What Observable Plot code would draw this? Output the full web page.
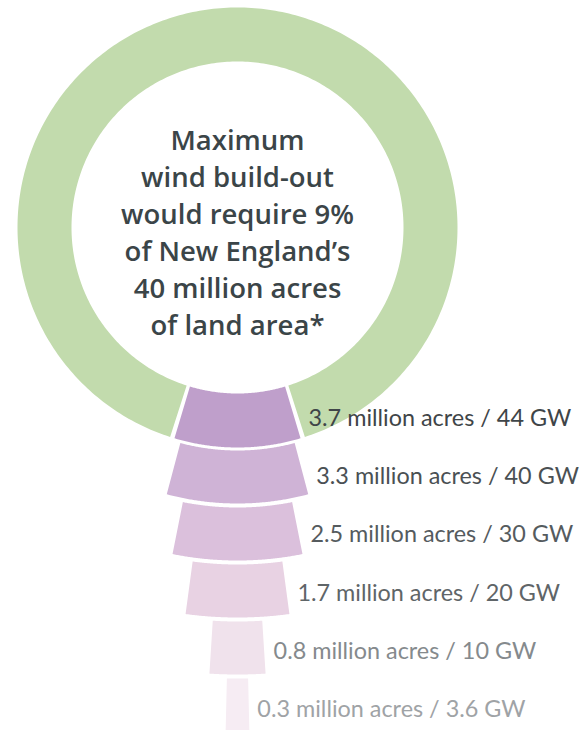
<!DOCTYPE html>
<html>
<head>
<meta charset="utf-8">
<script src="https://cdn.jsdelivr.net/npm/d3@7"></script>
<script src="https://cdn.jsdelivr.net/npm/@observablehq/plot@0.6"></script>
<style>
  html, body { margin: 0; padding: 0; background: #ffffff; }
  #chart svg { display: block; background: #ffffff; }
</style>
</head>
<body>
<div id="chart"></div>
<script>
// ---- data ----
const totalAcres = 40; // million acres of New England land
const scenarioAcres = [3.7, 3.3, 2.5, 1.7, 0.8, 0.3]; // million acres
const scenarioGW = ["44", "40", "30", "20", "10", "3.6"];
const scenarioLabels = [
  "3.7 million acres / 44 GW",
  "3.3 million acres / 40 GW",
  "2.5 million acres / 30 GW",
  "1.7 million acres / 20 GW",
  "0.8 million acres / 10 GW",
  "0.3 million acres / 3.6 GW"
];
const centerLines = [
  "Maximum",
  "wind build-out",
  "would require 9%",
  "of New England\u2019s",
  "40 million acres",
  "of land area*"
];

// ---- styles / layout ----
const W = 586, H = 730;
const cx = 237, cy = 227;
const ringIn = 166, ringOut = 220;
const bandStep = 57, bandThick = 53;
const gapPx = 4;
const labelTop = 418, labelStep = 58.2, labelGap = 8;
const ringColor = "#c2dbad";
const segColors = ["#bf9fcb", "#cfb3d6", "#dbc0dc", "#e8d2e3", "#f0e2ec", "#f6ecf3"];
const labelColors = ["#3f4548", "#4a5053", "#555b5e", "#5f6568", "#858a8d", "#9fa3a6"];

function sector(r0, r1, a0, a1, n = 120) {
  // angles measured from straight down, clockwise toward +x
  const pts = [];
  for (let i = 0; i <= n; i++) {
    const a = a0 + (a1 - a0) * i / n;
    pts.push({x: cx + r1 * Math.sin(a), y: cy + r1 * Math.cos(a)});
  }
  for (let i = n; i >= 0; i--) {
    const a = a0 + (a1 - a0) * i / n;
    pts.push({x: cx + r0 * Math.sin(a), y: cy + r0 * Math.cos(a)});
  }
  pts.push(pts[0]);
  return pts;
}

const segs = scenarioAcres.map((v, i) => {
  const half = (v / totalAcres) * Math.PI; // half of (v/total)·2π
  const r0 = ringIn + i * bandStep;
  const r1 = r0 + (i === 0 ? ringOut - ringIn : bandThick);
  return {half, r0, r1, i};
});

const firstHalf = segs[0].half;
const gapAng = gapPx / ((ringIn + ringOut) / 2);
const ringPts = sector(ringIn, ringOut, firstHalf + gapAng, 2 * Math.PI - firstHalf - gapAng, 360);

const marks = [
  Plot.line(ringPts, {x: "x", y: "y", fill: ringColor, stroke: "none", curve: "linear"})
];
segs.forEach(s => {
  marks.push(Plot.line(sector(s.r0, s.r1, -s.half, s.half), {
    x: "x", y: "y", fill: segColors[s.i], stroke: "none", curve: "linear"
  }));
});

const labelData = segs.map(s => ({
  x: cx + s.r1 * Math.sin(s.half) + labelGap,
  y: labelTop + s.i * labelStep,
  text: scenarioLabels[s.i],
  color: labelColors[s.i]
}));
marks.push(Plot.text(labelData, {
  x: "x", y: "y", text: "text", fill: "color", textAnchor: "start",
  fontSize: 23.4, fontFamily: "Lato", lineAnchor: "middle"
}));

marks.push(Plot.text([centerLines.join("\n")], {
  x: () => cx, y: () => cy + 3, text: d => d,
  textAnchor: "middle", lineAnchor: "middle", lineHeight: 1.345,
  fontSize: 27.5, fontWeight: 600, fontFamily: "Open Sans", fill: "#3b4548"
}));

const chart = Plot.plot({
  width: W, height: H,
  margin: 0,
  x: {type: "linear", domain: [0, W], range: [0, W], axis: null},
  y: {type: "linear", domain: [0, H], range: [0, H], axis: null},
  color: {type: "identity"},
  marks
});
document.getElementById("chart").appendChild(chart);
</script>
</body>
</html>
